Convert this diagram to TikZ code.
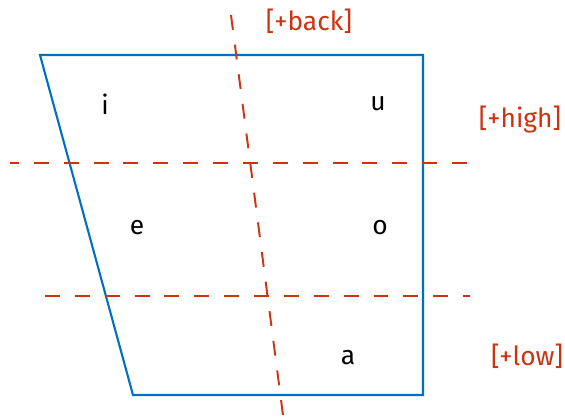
\documentclass[tikz,border=0pt]{standalone}
\usepackage{fontspec}
\setmainfont{Fira Sans}
\usepackage{tikz}
\usetikzlibrary{positioning}
\usetikzlibrary{calc}

\definecolor{chartblue}{RGB}{0,112,192}
\definecolor{featred}{RGB}{204,51,17}

\tikzset{
  chart/.style={draw=chartblue, line width=1.2pt, line join=miter},
  boundary/.style={draw=featred, dash pattern=on 8.5pt off 8.5pt, line width=1.1pt},
  vowel/.style={font=\fontsize{15}{17}\selectfont, text=black},
  feature/.style={font=\fontsize{15}{17}\selectfont, text=featred}
}

\begin{document}
\begin{tikzpicture}[x=0.02cm, y=-0.02cm]
    \useasboundingbox (0,0) rectangle (565,417);

    % vowel chart corners
    \coordinate (tl) at (40,55);
    \coordinate (tr) at (423,55);
    \coordinate (br) at (423,395);
    \coordinate (bl) at (133,395);
    \draw[chart] (tl) -- (tr) -- (br) -- (bl) -- cycle;

    % feature boundaries
    \coordinate (hi-w) at (10,163);
    \coordinate (hi-e) at (470,163);
    \coordinate (lo-w) at (45,296);
    \coordinate (lo-e) at (470,296);
    \coordinate (bk-n) at (231,15);
    \coordinate (bk-s) at (283,415);
    \draw[boundary, dash phase=3.4pt] (hi-w) -- (hi-e);
    \draw[boundary] (lo-w) -- (lo-e);
    \draw[boundary] (bk-n) -- (bk-s);

    % vowels
    \node[vowel] (i) at (105,104) {i};
    \node[vowel] (u) at (378,104) {u};
    \node[vowel] (e) at (137,228) {e};
    \node[vowel] (o) at (380,228) {o};
    \node[vowel] (a) at (348,358) {a};

    % features
    \node[feature] (back) at (309,21) {[+back]};
    \node[feature] (high) at (520,120) {[+high]};
    \node[feature] (low) at (527,356) {[+low]};
\end{tikzpicture}
\end{document}
